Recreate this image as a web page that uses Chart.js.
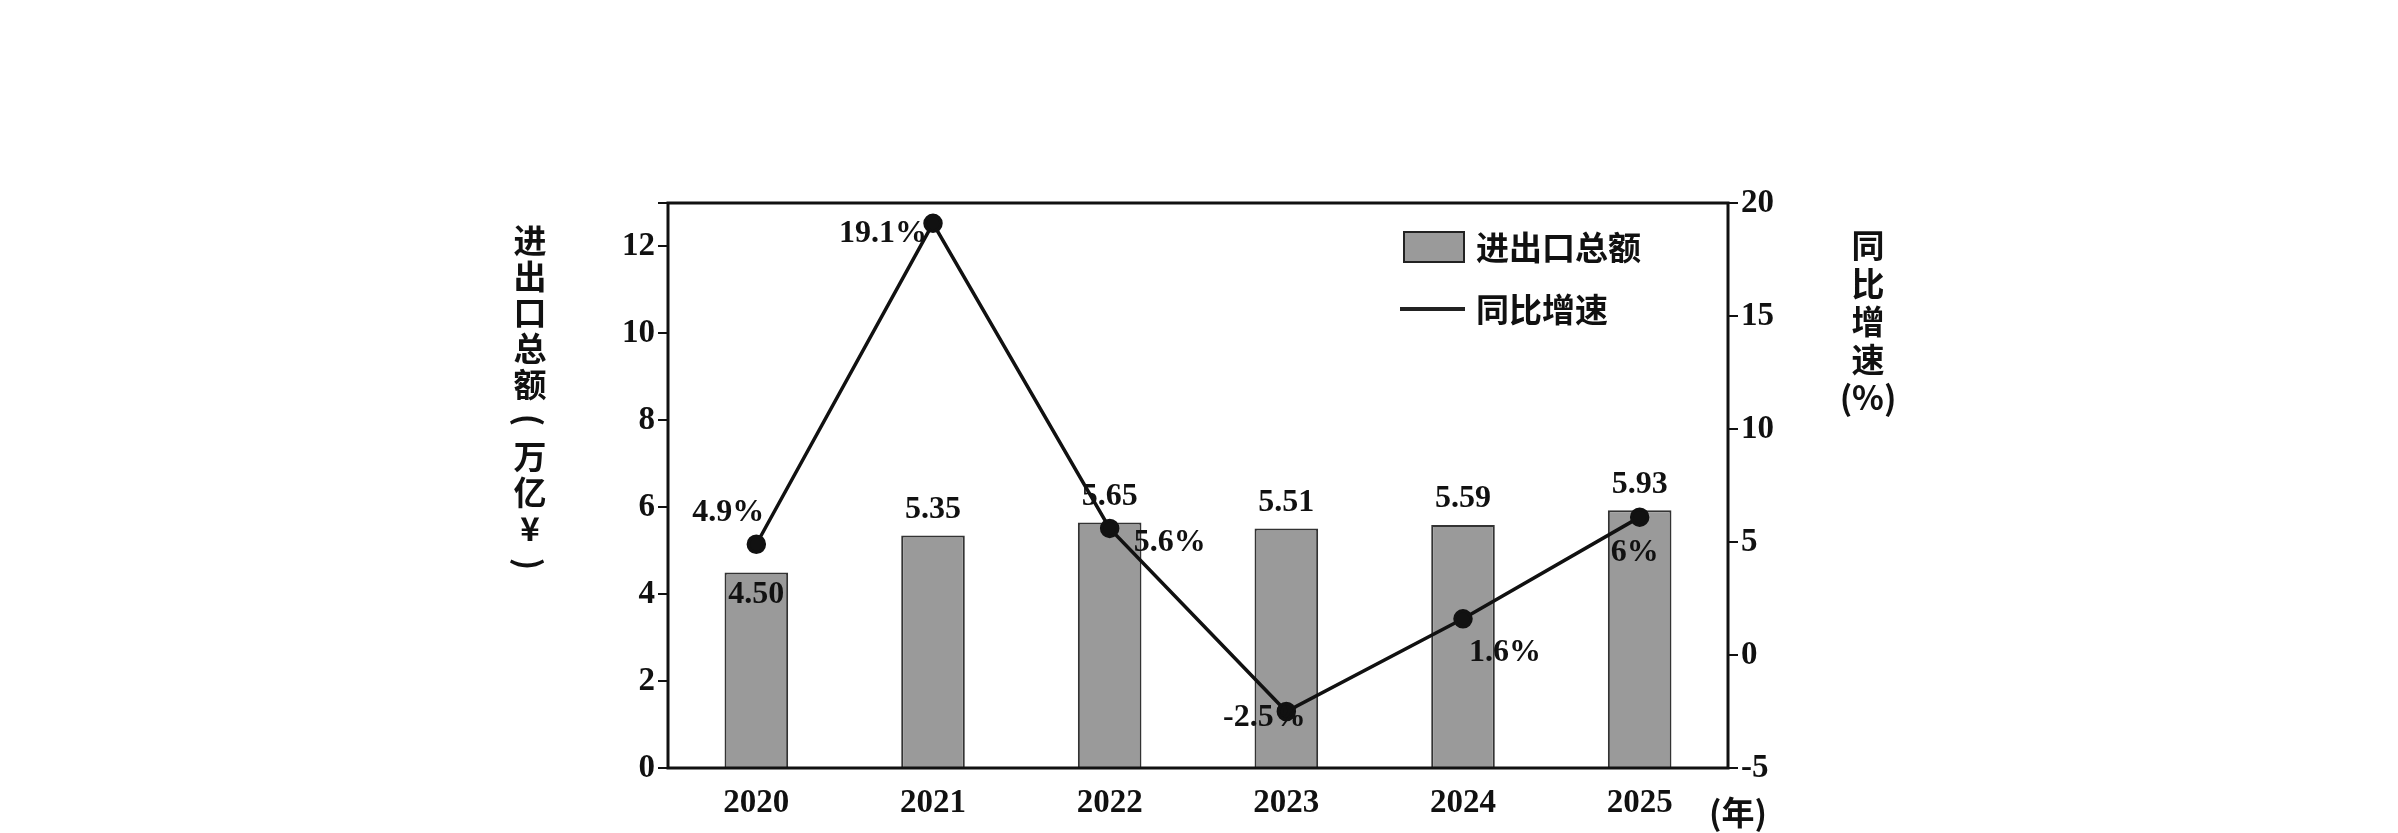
<!DOCTYPE html>
<html><head><meta charset="utf-8">
<script src="https://cdn.jsdelivr.net/npm/chart.js@4"></script>
<style>body{margin:0;background:#fff}</style>
</head><body>
<canvas id="c" width="2398" height="833"></canvas>
<script>
var years = ["2020", "2021", "2022", "2023", "2024", "2025"];
var totals = [4.50, 5.35, 5.65, 5.51, 5.59, 5.93];
var growth = [4.9, 19.1, 5.6, -2.5, 1.6, 6.1];
var growthLabels = ["4.9%", "19.1%", "5.6%", "-2.5%", "1.6%", "6%"];
var growthLabelOffsets = [[-28, -32], [-50, 10], [60, 14], [-22, 6], [42, 34], [-5, 36]];

var numFont = "bold 32px 'Liberation Serif', 'DejaVu Serif', serif";
var cjkFont = "bold 33px 'Noto Sans CJK SC'";
var tickFont = { family: "'Liberation Serif'", size: 33, weight: "bold" };

var decor = {
    id: 'decor',
    afterDatasetsDraw: function(chart) {
        var ctx = chart.ctx, a = chart.chartArea;
        ctx.save();
        ctx.strokeStyle = "#111";
        ctx.lineWidth = 3;
        ctx.strokeRect(a.left, a.top, a.right - a.left, a.bottom - a.top);

        ctx.fillStyle = "#111";
        ctx.font = numFont;
        ctx.textAlign = "center";
        ctx.textBaseline = "bottom";
        var bars = chart.getDatasetMeta(0).data;
        bars.forEach(function(b, i) {
            if (i == 0) return;
            ctx.fillText(totals[i].toFixed(2), b.x, b.y - 10);
        });
        ctx.textBaseline = "middle";
        ctx.fillText(totals[0].toFixed(2), bars[0].x, bars[0].y + 22);

        var pts = chart.getDatasetMeta(1).data;
        pts.forEach(function(p, i) {
            ctx.fillText(growthLabels[i], p.x + growthLabelOffsets[i][0], p.y + growthLabelOffsets[i][1]);
        });

        // legend
        ctx.fillStyle = "#9a9a9a";
        ctx.fillRect(1404, 232, 60, 30);
        ctx.strokeStyle = "#222";
        ctx.lineWidth = 2;
        ctx.strokeRect(1404, 232, 60, 30);
        ctx.lineWidth = 4;
        ctx.beginPath(); ctx.moveTo(1400, 309); ctx.lineTo(1465, 309); ctx.stroke();
        ctx.fillStyle = "#111";
        ctx.font = cjkFont;
        ctx.textAlign = "left";
        ctx.fillText("进出口总额", 1476, 247);
        ctx.fillText("同比增速", 1476, 309);

        // vertical axis titles
        ctx.textAlign = "center";
        var left = "进出口总额(万亿¥)";
        for (var i = 0; i < left.length; i++) {
            var ch = left[i];
            ctx.save();
            ctx.translate(530, 240 + i * 36);
            if (ch == "(" || ch == ")") ctx.rotate(Math.PI / 2);
            ctx.fillText(ch, 0, 0);
            ctx.restore();
        }
        var right = ["同", "比", "增", "速", "(%)"];
        right.forEach(function(ch, i) {
            ctx.fillText(ch, 1868, 245 + i * 38);
        });
        ctx.fillText("(年)", 1738, 812);
        ctx.restore();
    }
};

new Chart(document.getElementById("c"), {
    data: {
        labels: years,
        datasets: [
            {
                type: 'bar',
                label: "进出口总额",
                data: totals,
                yAxisID: 'y',
                backgroundColor: "#9a9a9a",
                borderColor: "#333",
                borderWidth: 2,
                barPercentage: 0.36,
                categoryPercentage: 1,
                order: 2
            },
            {
                type: 'line',
                label: "同比增速",
                data: growth,
                yAxisID: 'y1',
                borderColor: "#111",
                borderWidth: 3.5,
                pointBackgroundColor: "#111",
                pointRadius: 8,
                tension: 0,
                order: 1
            }
        ]
    },
    options: {
        responsive: false,
        animation: false,
        layout: { padding: { top: 203, left: 0, right: 0, bottom: 0 } },
        plugins: { legend: { display: false }, tooltip: { enabled: false } },
        scales: {
            x: {
                grid: { display: false },
                border: { display: false },
                ticks: { color: "#111", font: tickFont, padding: 8 },
                afterFit: function(s) { s.height = 65; }
            },
            y: {
                position: 'left',
                min: 0, max: 13,
                grid: { drawOnChartArea: false, tickLength: 10, color: "#111", lineWidth: 2 },
                border: { display: false },
                ticks: { stepSize: 2, color: "#111", font: tickFont,
                    callback: function(v) { return v <= 12 ? v : ""; } },
                afterFit: function(s) { s.width = 668; }
            },
            y1: {
                position: 'right',
                min: -5, max: 20,
                grid: { drawOnChartArea: false, tickLength: 10, color: "#111", lineWidth: 2 },
                border: { display: false },
                ticks: { stepSize: 5, color: "#111", font: tickFont },
                afterFit: function(s) { s.width = 670; }
            }
        }
    },
    plugins: [decor]
});
</script>
</body></html>
